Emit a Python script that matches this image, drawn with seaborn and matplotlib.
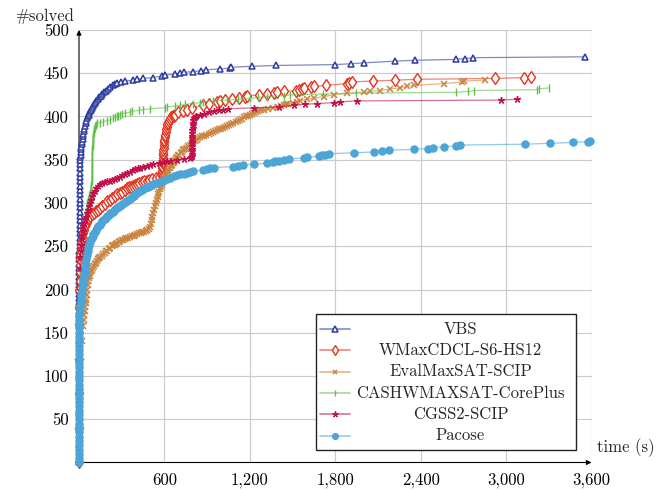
import matplotlib
matplotlib.use("Agg")
import matplotlib.pyplot as plt
import pandas as pd
import seaborn as sns
from matplotlib.ticker import FixedLocator, FuncFormatter
from matplotlib.lines import Line2D
from matplotlib.patches import Rectangle

# (solve time in s, number of instances solved) for each solver
vbs = [(0.2, 1), (0.4, 20), (0.6, 40), (0.8, 60), (1.0, 80), (1.2, 100), (1.4, 120),
       (1.6, 140), (1.8, 160), (2.0, 170), (2.1, 175), (2.2, 180), (2.3, 185), (2.4, 190),
       (2.5, 195), (2.6, 200), (2.7, 205), (2.8, 210), (2.9, 215), (3.0, 220), (3.1, 225),
       (3.2, 230), (3.3, 235), (3.4, 240), (3.5, 245), (3.6, 250), (3.7, 255), (3.8, 260),
       (3.9, 265), (4.0, 270), (4.2, 275), (4.4, 280), (4.6, 285), (4.8, 290), (5.0, 295),
       (5.2, 300), (5.4, 305), (5.6, 310), (5.8, 315), (6.0, 320), (6.3, 325), (6.6, 330),
       (7.0, 335), (7.5, 340), (8, 345), (9, 350), (10, 353), (11.5, 356), (13, 359),
       (15, 362), (17, 365), (19.5, 368), (22, 371), (25, 374), (28, 377), (31, 380),
       (34, 383), (38, 386), (42, 389), (47, 392), (52, 395), (57, 398), (63, 400),
       (68, 402), (73, 404), (78, 406), (84, 408), (90, 410), (96, 412), (104, 414),
       (112, 416), (120, 418), (130, 420), (140, 422), (152, 424), (165, 426), (178, 428),
       (192, 430), (206, 432), (220, 434), (238, 436), (255, 438), (270, 439), (292, 440),
       (323, 441), (382, 442), (406, 443), (448, 444), (518, 445), (586, 447), (605, 448),
       (675, 449), (710, 450), (738, 451), (804, 452), (856, 453), (893, 454), (992, 455),
       (1062, 456), (1069, 457), (1215, 458), (1385, 459), (1795, 460), (1913, 461),
       (1999, 462), (2222, 464), (2358, 465), (2649, 466), (2712, 467), (2769, 468),
       (3553, 469)]

wmaxcdcl = [(0.3, 1), (0.8, 40), (1.2, 80), (1.8, 120), (2.5, 160), (3.0, 180), (3.5, 200),
            (4, 210), (5, 220), (6, 228), (8, 235), (10, 240), (13, 245), (16, 250),
            (20, 255), (25, 260), (30, 265), (36, 269), (42, 273), (48, 276), (54, 278),
            (62, 281), (70, 283), (80, 285), (90, 287), (104, 289), (118, 291), (133, 292),
            (148, 294), (164, 297), (180, 299), (199, 302), (218, 304), (234, 306),
            (250, 308), (269, 310), (288, 312), (304, 313), (320, 315), (335, 317),
            (350, 318), (365, 319), (380, 320), (393, 321), (406, 322), (423, 323),
            (440, 324), (458, 325), (476, 326), (493, 327), (510, 328), (540, 329),
            (565, 330), (582, 331), (583, 334), (584, 337), (585, 340), (586, 343),
            (587, 346), (588, 349), (589, 352), (590, 355), (591, 358), (592, 361),
            (594, 364), (596, 367), (598, 370), (600, 373), (603, 376), (606, 379),
            (609, 382), (612, 385), (616, 388), (621, 391), (627, 393), (634, 395),
            (641, 397), (649, 399), (658, 400), (667, 401), (675, 402), (698, 405),
            (733, 406), (757, 408), (792, 410), (874, 413), (910, 415), (968, 417),
            (992, 418), (1027, 419), (1074, 420), (1121, 421), (1168, 423), (1180, 424),
            (1261, 425), (1321, 426), (1368, 427), (1391, 428), (1438, 429), (1526, 430),
            (1542, 431), (1566, 432), (1582, 433), (1629, 434), (1648, 435), (1735, 436),
            (1882, 438), (1899, 439), (1918, 440), (2063, 441), (2222, 442), (2375, 443),
            (2925, 444), (3124, 445), (3176, 446)]

evalmaxsat = [(0.5, 1), (2, 40), (5, 80), (10, 115), (18, 140), (28, 158), (34, 165),
              (38, 170), (42, 175), (45, 180), (48, 184), (51, 188), (55, 194), (58, 200),
              (62, 205), (65, 210), (70, 213), (75, 216), (80, 219), (85, 221), (90, 223),
              (95, 225), (103, 227), (110, 229), (118, 231), (125, 233), (133, 235),
              (140, 236), (150, 238), (160, 239), (170, 241), (180, 242), (190, 244),
              (200, 245), (209, 247), (218, 248), (229, 250), (240, 251), (250, 252),
              (260, 253), (270, 254), (280, 255), (290, 256), (300, 257), (310, 257),
              (320, 258), (333, 259), (345, 260), (358, 261), (370, 262), (383, 262),
              (395, 263), (408, 264), (420, 265), (433, 265), (445, 266), (458, 267),
              (470, 268), (480, 269), (490, 270), (499, 272), (504, 276), (510, 280),
              (516, 284), (522, 288), (528, 292), (534, 296), (540, 300), (546, 303),
              (552, 307), (558, 310), (564, 313), (570, 316), (576, 319), (582, 321),
              (588, 324), (593, 326), (599, 328), (605, 330), (611, 332), (617, 334),
              (623, 336), (628, 338), (634, 340), (640, 341), (646, 343), (652, 344),
              (658, 346), (664, 347), (670, 349), (676, 350), (682, 352), (687, 353),
              (696, 355), (705, 356), (714, 358), (722, 359), (731, 361), (740, 362),
              (749, 363), (757, 364), (768, 366), (780, 367), (792, 369), (803, 370),
              (815, 372), (827, 373), (839, 375), (851, 376), (865, 377), (880, 378),
              (895, 379), (910, 380), (925, 381), (940, 382), (954, 383), (968, 384),
              (982, 385), (995, 386), (1010, 387), (1025, 388), (1040, 389), (1055, 390),
              (1070, 391), (1085, 392), (1100, 394), (1115, 395), (1130, 396), (1145, 397),
              (1160, 399), (1175, 400), (1189, 401), (1203, 402), (1216, 403), (1230, 404),
              (1245, 405), (1260, 406), (1278, 407), (1296, 408), (1330, 409), (1365, 410),
              (1400, 411), (1420, 412), (1437, 413), (1455, 414), (1470, 415), (1500, 416),
              (1530, 417), (1554, 418), (1601, 420), (1650, 421), (1718, 423), (1788, 425),
              (1882, 427), (1999, 428), (2046, 429), (2117, 430), (2187, 432), (2257, 433),
              (2304, 435), (2351, 436), (2567, 438), (2691, 440), (2707, 441), (2850, 442)]

cashwmaxsat = [(0.5, 1), (2, 60), (5, 130), (10, 190), (14, 220), (18, 240), (23, 253),
               (28, 265), (33, 273), (38, 280), (43, 285), (48, 290), (53, 295), (58, 300),
               (63, 303), (68, 306), (73, 309), (78, 312), (81, 315), (84, 318), (86, 321),
               (88, 325), (89, 328), (90, 332), (90.5, 335), (91, 339), (91.5, 342),
               (92, 346), (92.5, 349), (93, 353), (93.5, 356), (94, 360), (94.5, 363),
               (95, 366), (96, 369), (97, 372), (98.5, 375), (100, 378), (102, 381),
               (104, 383), (107, 385), (110, 387), (114, 389), (118, 390), (128, 392),
               (150, 393), (171, 394), (195, 395), (218, 396), (241, 398), (253, 399),
               (265, 400), (276, 401), (288, 402), (300, 403), (323, 404), (359, 405),
               (371, 406), (420, 407), (452, 408), (499, 409), (605, 410), (617, 411),
               (675, 412), (710, 413), (745, 414), (800, 415), (851, 416), (874, 417),
               (944, 418), (1038, 419), (1120, 420), (1203, 421), (1260, 422), (1320, 423),
               (1437, 424), (1484, 425), (1714, 426), (1946, 427), (2649, 428), (2733, 429),
               (2773, 430), (3214, 431), (3230, 432), (3300, 433)]

cgss2 = [(0.5, 1), (2, 80), (4, 150), (6, 200), (8, 225), (10, 238), (12, 245), (15, 252),
         (18, 258), (21, 263), (25, 268), (30, 273), (35, 277), (42, 281), (48, 284),
         (55, 288), (62, 292), (70, 296), (78, 300), (85, 304), (93, 308), (101, 311),
         (110, 314), (120, 317), (134, 320), (148, 322), (164, 323), (180, 324), (200, 325),
         (218, 326), (234, 327), (250, 328), (269, 329), (288, 330), (304, 332), (320, 333),
         (340, 335), (359, 336), (377, 338), (395, 339), (412, 340), (429, 341), (452, 342),
         (475, 343), (499, 344), (523, 345), (560, 346), (593, 347), (617, 348), (640, 349),
         (687, 350), (740, 351), (780, 352), (788, 353), (792, 354), (792.5, 357),
         (793, 360), (793.5, 363), (794, 366), (794.5, 369), (795, 372), (795.5, 375),
         (796, 378), (796.5, 381), (797, 384), (798, 387), (799, 390), (801, 393),
         (804, 396), (808, 398), (814, 399), (825, 400), (851, 402), (880, 403), (910, 405),
         (945, 406), (980, 407), (1015, 408), (1050, 409), (1226, 410), (1402, 411),
         (1507, 413), (1589, 414), (1671, 415), (1788, 416), (1835, 417), (1953, 418),
         (2966, 419), (3078, 420)]

pacose = [(0.1, 1), (0.15, 5), (0.2, 10), (0.25, 15), (0.3, 20), (0.35, 25), (0.4, 30),
          (0.45, 35), (0.5, 40), (0.55, 45), (0.6, 50), (0.65, 55), (0.7, 60), (0.75, 65),
          (0.8, 70), (0.85, 75), (0.9, 80), (0.95, 85), (1.0, 90), (1.05, 95), (1.1, 100),
          (1.2, 105), (1.3, 110), (1.4, 115), (1.5, 120), (1.6, 125), (1.7, 130),
          (1.8, 135), (1.9, 140), (2.0, 145), (2.1, 150), (2.2, 155), (2.4, 160),
          (2.6, 165), (3, 171), (5, 176), (8, 182), (11, 187), (14, 192), (18, 197),
          (22, 202), (26, 206), (30, 210), (35, 215), (40, 220), (44, 225), (48, 230),
          (52, 235), (56, 240), (61, 244), (66, 248), (72, 252), (78, 255), (84, 258),
          (90, 260), (96, 262), (101, 264), (110, 267), (118, 269), (127, 271), (135, 273),
          (144, 275), (152, 277), (161, 279), (171, 280), (180, 282), (190, 283),
          (200, 285), (210, 286), (219, 288), (228, 289), (236, 290), (245, 291),
          (255, 293), (265, 294), (275, 295), (285, 296), (295, 298), (305, 299),
          (315, 300), (325, 301), (335, 302), (345, 303), (355, 305), (365, 306),
          (375, 307), (385, 308), (395, 310), (405, 311), (417, 313), (429, 314),
          (440, 315), (450, 316), (462, 317), (475, 318), (487, 319), (500, 320),
          (512, 321), (523, 322), (545, 323), (570, 324), (593, 326), (615, 328),
          (640, 329), (665, 331), (690, 332), (710, 333), (735, 334), (760, 335),
          (780, 336), (800, 337), (874, 338), (900, 339), (922, 340), (945, 341),
          (1085, 342), (1120, 343), (1155, 344), (1226, 345), (1320, 346), (1360, 347),
          (1378, 348), (1402, 349), (1440, 350), (1472, 351), (1578, 352), (1600, 353),
          (1683, 354), (1707, 355), (1730, 356), (1753, 357), (1929, 358), (2070, 359),
          (2129, 360), (2176, 361), (2351, 362), (2450, 363), (2487, 364), (2562, 365),
          (2651, 366), (2679, 367), (3132, 368), (3305, 369), (3472, 370), (3577, 371),
          (3590, 372)]

solver_names = ["VBS", "WMaxCDCL-S6-HS12", "EvalMaxSAT-SCIP",
                "CASHWMAXSAT-CorePlus", "CGSS2-SCIP", "Pacose"]
x_ticks = [600, 1200, 1800, 2400, 3000, 3600]
y_ticks = [50, 100, 150, 200, 250, 300, 350, 400, 450, 500]

styles = {
    "VBS": dict(color="#2c3c9e", marker="^", ms=4.6, mfc="white", mew=1.1),
    "WMaxCDCL-S6-HS12": dict(color="#e2341f", marker="d", ms=6.0, mfc="white", mew=1.0),
    "EvalMaxSAT-SCIP": dict(color="#c9843f", marker="x", ms=4.2, mfc="none", mew=1.1),
    "CASHWMAXSAT-CorePlus": dict(color="#5fc148", marker="|", ms=5.5, mfc="none", mew=1.0),
    "CGSS2-SCIP": dict(color="#c1124b", marker=(5, 2, 0), ms=5.0, mfc="none", mew=1.0),
    "Pacose": dict(color="#4ca5d6", marker="o", ms=6.1, mfc="#4ca5d6", mew=0.0),
}

frames = []
for name, pts in zip(solver_names, [vbs, wmaxcdcl, evalmaxsat, cashwmaxsat, cgss2, pacose]):
    d = pd.DataFrame(pts, columns=["time", "solved"])
    d["solver"] = name
    frames.append(d)
data = pd.concat(frames, ignore_index=True)

sns.set_theme(style="white")
plt.rcParams["font.family"] = ["cmr10", "DejaVu Serif"]
plt.rcParams["mathtext.fontset"] = "cm"
plt.rcParams["axes.formatter.use_mathtext"] = True
plt.rcParams["axes.unicode_minus"] = False

FS = 12

fig = plt.figure(figsize=(6.56, 4.90), dpi=100)
ax = fig.add_axes([79 / 656, 27.5 / 490, 512.5 / 656, 432.5 / 490])

for name in solver_names:
    st = styles[name]
    sub = data[data["solver"] == name]
    sns.lineplot(data=sub, x="time", y="solved", ax=ax, estimator=None, sort=False,
                 legend=False, color=st["color"], lw=0.9, alpha=0.6)
    sns.lineplot(data=sub, x="time", y="solved", ax=ax, estimator=None, sort=False,
                 legend=False, color=st["color"], linestyle="none", marker=st["marker"],
                 markersize=st["ms"], markeredgecolor=st["color"],
                 markerfacecolor=st["mfc"], markeredgewidth=st["mew"])

# marks sitting on the axes must not be cut in half
for ln in ax.lines:
    ln.set_clip_on(False)

ax.set_xlim(0, 3600)
ax.set_ylim(0, 500)
ax.xaxis.set_major_locator(FixedLocator(x_ticks))
ax.yaxis.set_major_locator(FixedLocator(y_ticks))
ax.xaxis.set_major_formatter(FuncFormatter(lambda v, p: f"{v:,.0f}"))
ax.yaxis.set_major_formatter(FuncFormatter(lambda v, p: f"{v:.0f}"))
ax.set_xlabel("")
ax.set_ylabel("")
ax.grid(True, color="#cbcbcb", lw=0.85)
ax.set_axisbelow(True)
for s in ax.spines.values():
    s.set_visible(False)
ax.tick_params(axis="both", which="major", labelsize=FS, colors="#8c8c8c",
               labelcolor="black", direction="inout", length=4, width=0.8, pad=5.5)
ax.tick_params(axis="x", pad=5)

# axis lines with arrow heads, kept beneath the data marks
arrow = dict(arrowstyle="-|>", color="black", lw=0.8, mutation_scale=7,
             shrinkA=0, shrinkB=0)
ax.annotate("", xy=(0, 1), xycoords="axes fraction", xytext=(0, 0),
            textcoords="axes fraction", arrowprops=arrow, zorder=1)
ax.annotate("", xy=(1, 0), xycoords="axes fraction", xytext=(0, 0),
            textcoords="axes fraction", arrowprops=arrow, zorder=1)

ax.text(-0.068, 1.031, "#solved", transform=ax.transAxes, ha="center", va="center",
        fontsize=FS)
ax.text(1.066, 0.0335, "time (s)", transform=ax.transAxes, ha="center", va="center",
        fontsize=FS)

# legend box with centred entries
lx0, lx1, ly0, ly1 = 0.4615, 0.969, 0.0289, 0.3434
ax.add_patch(Rectangle((lx0, ly0), lx1 - lx0, ly1 - ly0, transform=ax.transAxes,
                       facecolor="white", edgecolor="#222222", lw=1.0, zorder=10,
                       clip_on=False))
row_y = [0.3087, 0.2594, 0.2100, 0.1607, 0.1114, 0.0620]
for name, yy in zip(solver_names, row_y):
    st = styles[name]
    ax.add_line(Line2D([0.4702, 0.5288], [yy, yy], transform=ax.transAxes,
                       color=st["color"], lw=1.3, alpha=0.55, zorder=11, clip_on=False))
    ax.add_line(Line2D([0.4995], [yy], transform=ax.transAxes, linestyle="none",
                       marker=st["marker"], markersize=st["ms"] * 0.85,
                       markeredgecolor=st["color"], markerfacecolor=st["mfc"],
                       markeredgewidth=st["mew"], zorder=12, clip_on=False))
    ax.text(0.7444, yy, name, transform=ax.transAxes, ha="center", va="center",
            fontsize=FS, zorder=12)

fig.savefig("out.png", dpi=100, facecolor="white")
